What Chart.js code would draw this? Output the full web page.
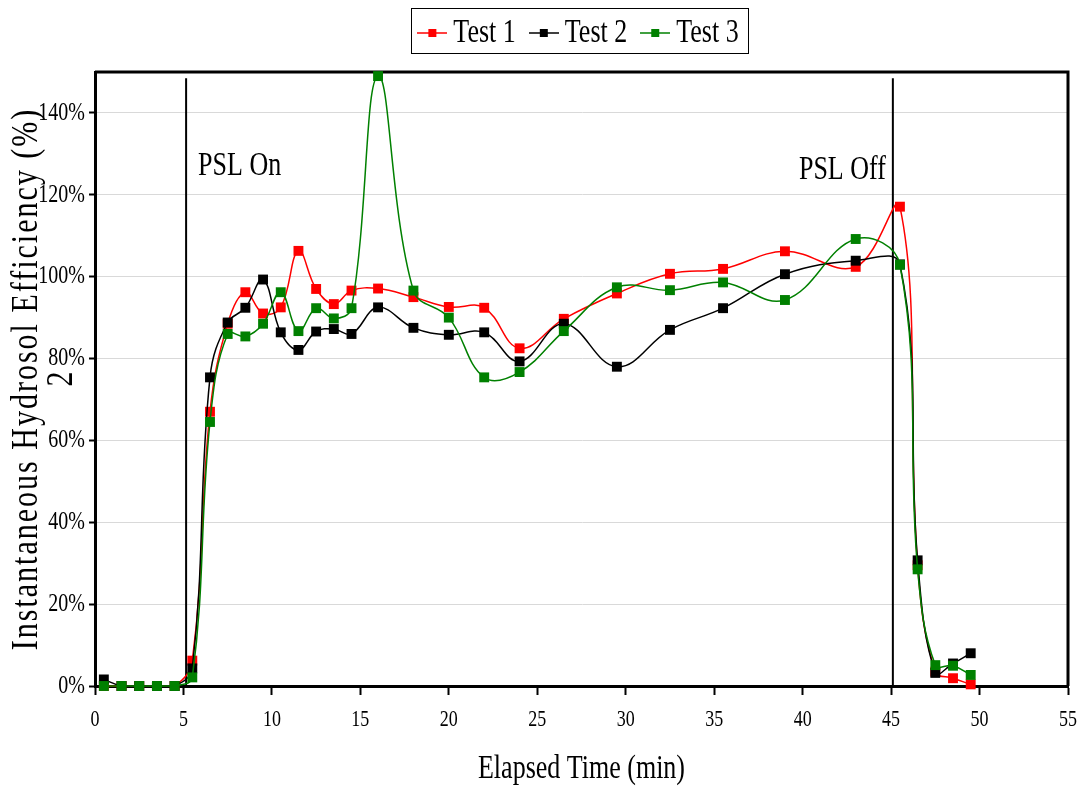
<!DOCTYPE html>
<html>
<head>
<meta charset="utf-8">
<script src="https://cdn.jsdelivr.net/npm/chart.js@4.4.1/dist/chart.umd.min.js"></script>
<style>
  html, body { margin: 0; padding: 0; background: #fff; }
  canvas { display: block; }
</style>
</head>
<body>
<canvas id="chart" width="1083" height="791"></canvas>
<script>
// values
const elapsedMin = [0.5, 1.5, 2.5, 3.5, 4.5, 5.5, 6.5, 7.5, 8.5, 9.5, 10.5, 11.5, 12.5, 13.5, 14.5,
  16, 18, 20, 22, 24, 26.5, 29.5, 32.5, 35.5, 39, 43, 45.5, 46.5, 47.5, 48.5, 49.5];
const test1 = [0, 0, 0, 0, 0, 6.2, 67, 88.5, 96.2, 91, 92.5, 106.3, 97, 93.3, 96.6,
  97.1, 95, 92.6, 92.4, 82.5, 89.7, 95.9, 100.7, 101.9, 106.2, 102.4, 117.1, 29.5, 3.5, 1.9, 0.4];
const test2 = [1.6, 0, 0, 0, 0, 4.3, 75.4, 88.8, 92.4, 99.3, 86.4, 82.1, 86.6, 87.2, 86,
  92.5, 87.5, 85.8, 86.4, 79.3, 88.5, 78, 87, 92.3, 100.6, 103.9, 103, 30.7, 3.2, 5.5, 8];
const test3 = [0, 0, 0, 0, 0, 2.1, 64.5, 86, 85.4, 88.5, 96.2, 86.7, 92.3, 89.8, 92.3,
  149, 96.6, 90, 75.4, 76.7, 86.7, 97.4, 96.7, 98.6, 94.3, 109.2, 102.9, 28.5, 5.1, 4.95, 2.7];

const seriesNames = ['Test 1', 'Test 2', 'Test 3'];
const seriesColors = ['#ff0000', '#000000', '#008000'];

const xTickValues = [0, 5, 10, 15, 20, 25, 30, 35, 40, 45, 50, 55];
const yTickValues = [0, 20, 40, 60, 80, 100, 120, 140];

const pslTimes = [5.15, 45.1];
const pslLabels = ['PSL On', 'PSL Off'];
const pslLabelLevels = [127, 126];

const xTitle = 'Elapsed Time (min)';
const yTitle = ['Instantaneous Hydrosol Efficiency (%)', '2'];

const FONT = "'Liberation Serif', 'Times New Roman', serif";
const TEXT_STRETCH = 1.28; // the original text is tall and narrow

const canvas = document.getElementById('chart');
const ctx = canvas.getContext('2d');

// draw every text a bit taller than wide, like the picture
const plainFillText = ctx.fillText;
ctx.fillText = function (text, x, y, maxWidth) {
  this.save();
  this.translate(x, y);
  this.scale(1, TEXT_STRETCH);
  if (text === yTitle[0]) this.letterSpacing = '2px';
  if (maxWidth === undefined) plainFillText.call(this, text, 0, 0);
  else plainFillText.call(this, text, 0, 0, maxWidth);
  this.restore();
};

function legendSymbol(color) {
  const c = document.createElement('canvas');
  c.width = 30;
  c.height = 10;
  const g = c.getContext('2d');
  g.strokeStyle = color;
  g.lineWidth = 1.5;
  g.beginPath();
  g.moveTo(0, 5);
  g.lineTo(30, 5);
  g.stroke();
  g.fillStyle = color;
  g.fillRect(11, 1, 8, 8);
  return c;
}

const frameAndPsl = {
  id: 'frameAndPsl',
  beforeLayout(chart) {
    const lg = chart.legend;
    if (lg && !lg._gapAdded) {
      const fit0 = lg.fit;
      lg.fit = function () {
        fit0.call(this);
        this.height += 16;
      };
      lg._gapAdded = true;
    }
  },
  beforeDatasetsDraw(chart) {
    const { ctx, chartArea: a, scales: { x, y } } = chart;
    ctx.save();
    ctx.strokeStyle = '#000';
    ctx.lineWidth = 3;
    ctx.beginPath();
    ctx.moveTo(a.left, a.top);
    ctx.lineTo(a.right, a.top);
    ctx.lineTo(a.right, a.bottom);
    ctx.stroke();

    ctx.lineWidth = 2;
    ctx.fillStyle = '#000';
    ctx.font = '26px ' + FONT;
    ctx.textBaseline = 'middle';
    pslTimes.forEach((t, i) => {
      const px = x.getPixelForValue(t);
      ctx.beginPath();
      ctx.moveTo(px, y.getPixelForValue(148.5));
      ctx.lineTo(px, a.bottom);
      ctx.stroke();
      ctx.textAlign = i === 0 ? 'left' : 'right';
      ctx.fillText(pslLabels[i], i === 0 ? px + 12 : px - 7, y.getPixelForValue(pslLabelLevels[i]));
    });
    ctx.restore();
  },
  afterDraw(chart) {
    const hb = chart.legend.legendHitBoxes;
    if (!hb || !hb.length) return;
    const last = hb[hb.length - 1];
    const cy = hb[0].top + hb[0].height / 2;
    const left = Math.round(hb[0].left - 13);
    const c = chart.ctx;
    c.save();
    c.strokeStyle = '#000';
    c.lineWidth = 1;
    c.strokeRect(left + 0.5, Math.round(cy - 25) + 0.5,
      Math.round(last.left + last.width + 9) - left, 45);
    c.restore();
  }
};

const allSeries = [test1, test2, test3];

new Chart(ctx, {
  type: 'line',
  data: {
    datasets: allSeries.map((vals, i) => ({
      label: seriesNames[i],
      data: elapsedMin.map((t, j) => ({ x: t, y: vals[j] })),
      borderColor: seriesColors[i],
      backgroundColor: seriesColors[i],
      borderWidth: 1.5,
      pointStyle: 'rect',
      pointRadius: 7,
      pointBorderWidth: 0,
      tension: 0.4,
      clip: false,
      order: 3 - i
    }))
  },
  options: {
    responsive: false,
    animation: false,
    devicePixelRatio: 1,
    layout: { padding: { top: 0, right: 15, bottom: 0, left: 0 } },
    plugins: {
      tooltip: { enabled: false },
      legend: {
        position: 'top',
        fullSize: false,
        labels: {
          font: { family: FONT, size: 26 },
          color: '#000',
          usePointStyle: true,
          pointStyleWidth: 16,
          padding: 20,
          generateLabels: chart => chart.data.datasets.map((ds, i) => ({
            text: ds.label,
            fillStyle: ds.borderColor,
            strokeStyle: ds.borderColor,
            lineWidth: 0,
            pointStyle: legendSymbol(ds.borderColor),
            fontColor: '#000',
            hidden: false,
            datasetIndex: i
          }))
        }
      }
    },
    scales: {
      x: {
        type: 'linear',
        min: 0,
        max: 55,
        afterBuildTicks: s => { s.ticks = xTickValues.map(v => ({ value: v })); },
        afterFit: s => {
          s.height = 105;
          s.paddingLeft = 0;
          s.paddingRight = 0;
        },
        ticks: { font: { family: FONT, size: 18 }, color: '#000', padding: 14, maxRotation: 0 },
        grid: { drawOnChartArea: false, tickLength: 9, tickColor: '#000', tickWidth: 2 },
        border: { display: true, color: '#000', width: 3 },
        title: {
          display: true,
          text: xTitle,
          color: '#000',
          font: { family: FONT, size: 26 },
          padding: { top: 0, bottom: 6 }
        }
      },
      y: {
        min: 0,
        max: 150,
        afterBuildTicks: s => { s.ticks = yTickValues.map(v => ({ value: v })); },
        afterFit: s => { s.width = 95; },
        ticks: { font: { family: FONT, size: 20 }, color: '#000', padding: 4, callback: v => v + '%' },
        grid: { color: '#d9d9d9', lineWidth: 1, tickColor: '#000', tickLength: 6, tickWidth: 2 },
        border: { display: true, color: '#000', width: 3 },
        title: {
          display: true,
          text: yTitle,
          color: '#000',
          font: { family: FONT, size: 30, lineHeight: '35px' },
          padding: { top: 9, bottom: 0 }
        }
      }
    }
  },
  plugins: [frameAndPsl]
});
</script>
</body>
</html>
